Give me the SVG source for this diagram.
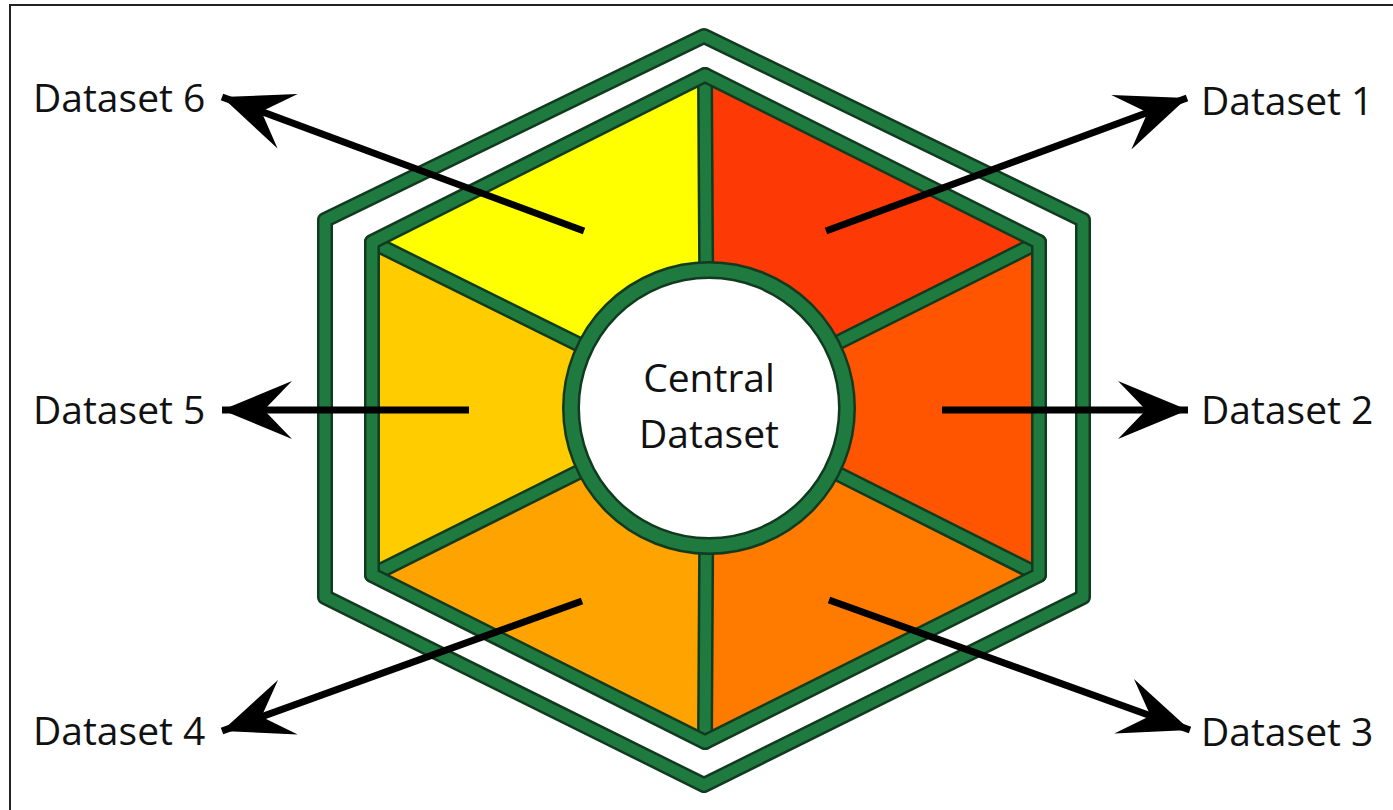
<svg xmlns="http://www.w3.org/2000/svg" width="1393" height="810" viewBox="0 0 1393 810">
<defs>
<style>
.band-dark{fill:none;stroke:#123a1f;stroke-width:16;stroke-linejoin:round;stroke-linecap:round}
.band{fill:none;stroke:#1f7a40;stroke-width:11;stroke-linejoin:round;stroke-linecap:round}
.lbl{font-family:"Open Sans","Liberation Sans",sans-serif;font-size:39px;fill:#111}
.arrow{stroke:#000;stroke-width:7;fill:none;marker-end:url(#ah)}
</style>
<marker id="ah" markerUnits="userSpaceOnUse" markerWidth="84" markerHeight="74" viewBox="-74 -37 84 74" refX="0" refY="0" orient="auto">
<path d="M0,0 L-70,-29 L-42,0 L-70,29 Z" fill="#000"/>
</marker>
</defs>
<rect width="1393" height="810" fill="#fff"/>
<path d="M10,810 L10,5 L1393,5" fill="none" stroke="#222" stroke-width="2"/>

<g id="outer-hexagon">
<polygon points="704,36 1083,220 1083,597 704,785 325,597 325,220" fill="#fff" class="band-dark"/>
<polygon points="704,36 1083,220 1083,597 704,785 325,597 325,220" class="band"/>
</g>

<g id="segments">
<polygon id="seg1" points="707,408 705,75 1039,242" fill="#fd3a05"/>
<polygon id="seg2" points="707,408 1039,242 1039,575" fill="#ff5500"/>
<polygon id="seg3" points="707,408 1039,575 705,742" fill="#ff7b00"/>
<polygon id="seg4" points="707,408 705,742 372,575" fill="#ffa300"/>
<polygon id="seg5" points="707,408 372,575 372,242" fill="#ffcc00"/>
<polygon id="seg6" points="707,408 372,242 705,75" fill="#ffff00"/>
</g>

<g id="spokes">
<path d="M705,75 L707,408 M1039,242 L707,408 M1039,575 L707,408 M705,742 L707,408 M372,575 L707,408 M372,242 L707,408" class="band-dark"/>
<path d="M705,75 L707,408 M1039,242 L707,408 M1039,575 L707,408 M705,742 L707,408 M372,575 L707,408 M372,242 L707,408" class="band"/>
</g>

<g id="inner-hexagon">
<polygon points="705,75 1039,242 1039,575 705,742 372,575 372,242" class="band-dark"/>
<polygon points="705,75 1039,242 1039,575 705,742 372,575 372,242" class="band"/>
</g>

<g id="central">
<circle cx="709" cy="408" r="138" fill="#fff" stroke="#123a1f" stroke-width="18"/>
<circle cx="709" cy="408" r="138" fill="none" stroke="#1f7a40" stroke-width="13"/>
<text class="lbl" x="709" y="392" text-anchor="middle">Central</text>
<text class="lbl" x="709" y="448" text-anchor="middle">Dataset</text>
</g>

<g id="connectors">
<line class="arrow" x1="826" y1="231" x2="1187" y2="98"/>
<line class="arrow" x1="942" y1="410" x2="1188" y2="410"/>
<line class="arrow" x1="829" y1="600" x2="1190" y2="730"/>
<line class="arrow" x1="582" y1="601" x2="222" y2="731"/>
<line class="arrow" x1="469" y1="410" x2="222" y2="410"/>
<line class="arrow" x1="584" y1="231" x2="222" y2="97"/>
</g>

<g id="dataset1"><text class="lbl" x="1201" y="115">Dataset 1</text></g>
<g id="dataset2"><text class="lbl" x="1201" y="424">Dataset 2</text></g>
<g id="dataset3"><text class="lbl" x="1201" y="746">Dataset 3</text></g>
<g id="dataset4"><text class="lbl" x="33" y="745">Dataset 4</text></g>
<g id="dataset5"><text class="lbl" x="33" y="424">Dataset 5</text></g>
<g id="dataset6"><text class="lbl" x="33" y="112">Dataset 6</text></g>
</svg>
